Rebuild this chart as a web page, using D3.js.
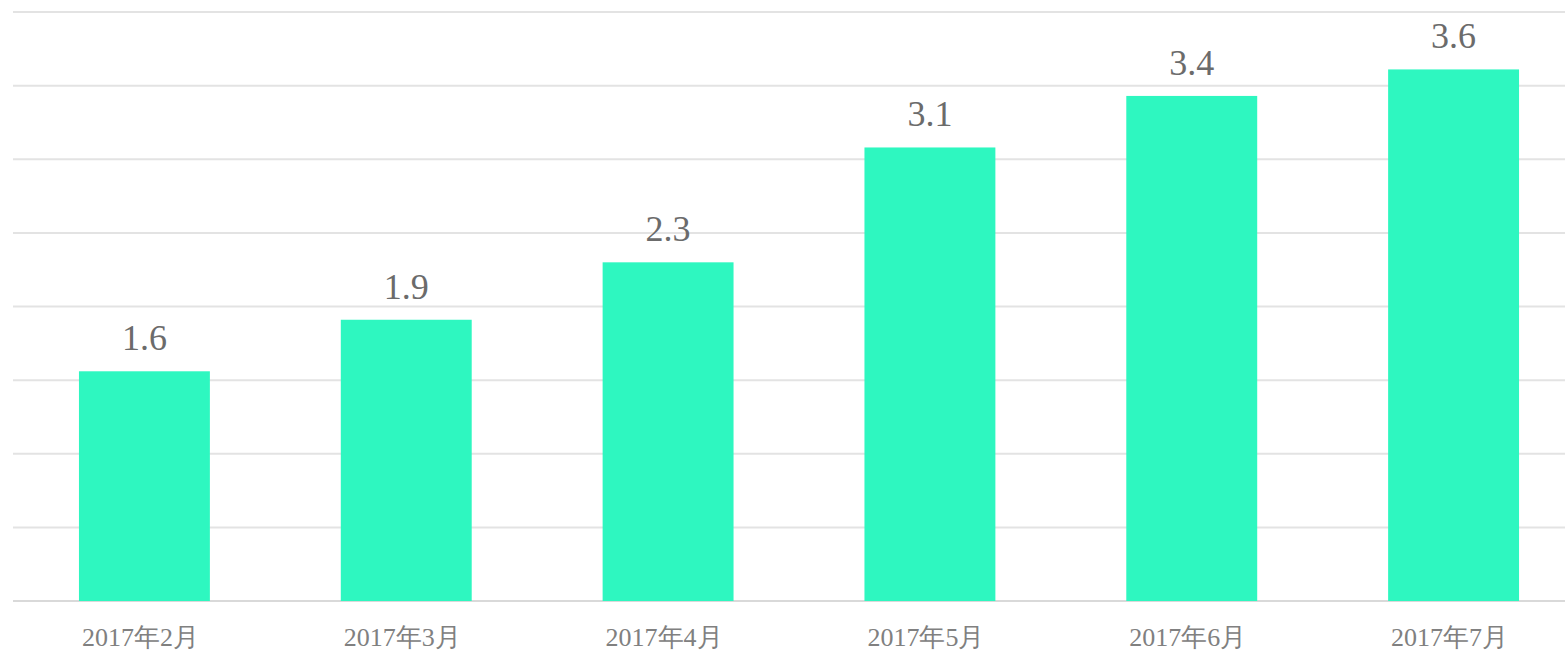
<!DOCTYPE html>
<html><head><meta charset="utf-8">
<script src="https://cdn.jsdelivr.net/npm/d3@7"></script>
<style>body{margin:0;background:#fff;overflow:hidden}
text{font-family:"Liberation Serif","DejaVu Serif",serif;}</style>
</head><body>
<svg id="c" width="1565" height="651"></svg>
<script>
const categories = ["2017年2月","2017年3月","2017年4月","2017年5月","2017年6月","2017年7月"];
const values = [1.56, 1.91, 2.30, 3.08, 3.43, 3.61];
const labels = ["1.6","1.9","2.3","3.1","3.4","3.6"];
const gridTicks = [0,0.5,1,1.5,2,2.5,3,3.5,4];

const svg = d3.select("#c");
const x = d3.scaleBand().domain(categories).range([13.5, 1584.5]).paddingInner(0.5).paddingOuter(0.25);
const y = d3.scaleLinear().domain([0,4]).range([601, 12]);

svg.append("g").selectAll("line").data(gridTicks).join("line")
  .attr("x1",13).attr("x2",1565)
  .attr("y1",d=>y(d)).attr("y2",d=>y(d))
  .attr("stroke",d=>d===0?"#d9d9d9":"#e3e3e3").attr("stroke-width",2);

svg.append("g").selectAll("rect").data(values).join("rect")
  .attr("x",(d,i)=>x(categories[i])).attr("width",x.bandwidth())
  .attr("y",d=>y(d)).attr("height",d=>y(0)-y(d))
  .attr("fill","#2ef7c0");

svg.append("g").selectAll("text").data(values).join("text")
  .attr("x",(d,i)=>x(categories[i])+x.bandwidth()/2)
  .attr("y",d=>y(d)-21)
  .attr("text-anchor","middle")
  .attr("font-size",36).attr("fill","#6b6b6b")
  .text((d,i)=>labels[i]);

svg.append("g").selectAll("text").data(categories).join("text")
  .attr("x",d=>x(d)+x.bandwidth()/2-4)
  .attr("y",646)
  .attr("text-anchor","middle")
  .attr("font-size",26).attr("fill","#808080")
  .text(d=>d);
</script>
</body></html>
